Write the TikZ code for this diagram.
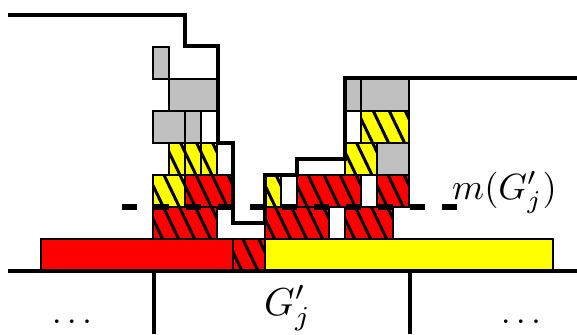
\documentclass[tikz,border=0pt]{standalone}
\usepackage{graphicx}
\definecolor{gr}{RGB}{192,192,192}
\definecolor{rd}{RGB}{255,0,0}
\definecolor{yl}{RGB}{255,255,0}
\tikzset{
  blk/.style={draw=black, line width=1.2pt},
  prof/.style={line width=4pt, line join=miter},
  stripe/.style={line width=3pt},
  mlbl/.style={inner sep=0pt},
}
% hatched block
\newcommand\hbk[5]{%
  \fill[#5] (#1,#2) rectangle (#3,#4);
  \begin{scope}
    \clip (#1,#2) rectangle (#3,#4);
    \foreach \k in {0,...,40}{%
      \draw[stripe] ({-96+16*\k+0.48*#2},#2) -- ({-96+16*\k+0.48*#4},#4);
    }
  \end{scope}
  \draw[blk] (#1,#2) rectangle (#3,#4);
}
% plain block
\newcommand\pbk[5]{%
  \fill[#5] (#1,#2) rectangle (#3,#4);
  \draw[blk] (#1,#2) rectangle (#3,#4);
}
\begin{document}
\begin{tikzpicture}[x=1pt,y=-1pt]
\useasboundingbox (0,0) rectangle (577,334);
% base
\pbk{41}{239}{233}{270}{rd}
\hbk{233}{239}{265}{270}{rd}
\pbk{265}{239}{553}{270}{yl}
% left stack
\pbk{153}{47}{169}{79}{gr}
\pbk{169}{79}{217}{111}{gr}
\pbk{153}{111}{185}{143}{gr}
\pbk{185}{111}{201}{143}{gr}
\hbk{169}{143}{185}{175}{yl}
\hbk{185}{143}{201}{175}{yl}
\hbk{201}{143}{217}{175}{yl}
\hbk{153}{175}{185}{207}{yl}
\hbk{185}{175}{233}{207}{rd}
\hbk{153}{207}{217}{239}{rd}
% right stack
\pbk{345}{79}{361}{111}{gr}
\pbk{361}{79}{409}{111}{gr}
\hbk{361}{111}{409}{143}{yl}
\hbk{345}{143}{377}{175}{yl}
\pbk{377}{143}{409}{175}{gr}
\hbk{265}{175}{281}{207}{yl}
\hbk{297}{175}{361}{207}{rd}
\hbk{377}{175}{409}{207}{rd}
\hbk{265}{207}{329}{239}{rd}
\hbk{345}{207}{393}{239}{rd}
% profile line
\coordinate (p0) at (8,15);
\coordinate (p1) at (577,78);
\draw[prof] (p0) -| (185,46) -| (218,143) -| (233,223) -| (265,175)
  -| (297,159) -| (345,78) -- (p1);
% m(G'_j) dashed level
\coordinate (d0) at (122,207);
\coordinate (d1) at (457,207);
\draw[line width=6pt, dash pattern=on 15pt off 17pt] (d0) -- (d1);
% ground
\coordinate (g0) at (8,271);
\coordinate (g1) at (577,271);
\draw[line width=4pt] (g0) -- (g1);
\coordinate (v0) at (154,271);
\coordinate (v0b) at (154,334);
\coordinate (v1) at (410,271);
\coordinate (v1b) at (410,334);
\draw[line width=3.5pt] (v0) -- (v0b);
\draw[line width=3.5pt] (v1) -- (v1b);
% labels
\node[mlbl, anchor=base west] (mlab) at (452,199) {\scalebox{3.65}{$m(G'_j)$}};
\node[mlbl, anchor=base west] (glab) at (264,315) {\scalebox{3.9}{$G'_j$}};
\node[mlbl, anchor=base] (dl) at (72,323) {\scalebox{3.4}{$\ldots$}};
\node[mlbl, anchor=base] (dr) at (521,323) {\scalebox{3.4}{$\ldots$}};
\end{tikzpicture}
\end{document}
